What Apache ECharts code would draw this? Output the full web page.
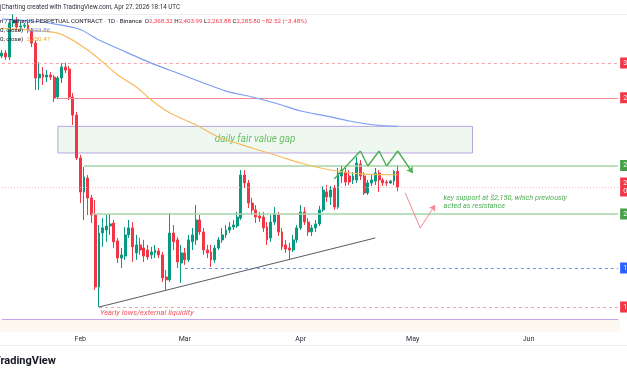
<!DOCTYPE html>
<html><head><meta charset="utf-8">
<script src="https://cdn.jsdelivr.net/npm/echarts@6/dist/echarts.min.js"></script>
<style>html,body{margin:0;padding:0;background:#fff}#c{width:627px;height:376px}</style>
</head><body><div id="c"></div>
<script>
// ---------- DATA ----------
const firstDay = '2026-01-11';
const dayCount = 166;
const monthNames = ['Jan','Feb','Mar','Apr','May','Jun','Jul','Aug','Sep','Oct','Nov','Dec'];

// daily candles from 2026-01-11 : [open, close, low, high]
const candles = [
  // Jan 11 - Jan 31
  [3079,3100,3065,3121],[3100,3072,3051,3121],[3072,3319,3051,3341],[3319,3341,3289,3387],
  [3341,3289,3266,3364],[3289,3296,3259,3326],[3296,3303,3281,3319],[3303,3266,3244,3326],
  [3266,3171,3142,3281],[3171,2929,2850,3193],[2929,2955,2850,3037],[2955,2935,2883,3003],
  [2935,2949,2902,2982],[2949,2935,2915,2969],[2935,2798,2773,2949],[2805,2929,2792,2942],
  [2929,3003,2896,3030],[3003,2982,2962,3030],[2989,2805,2786,3010],[2805,2692,2632,2830],
  [2692,2442,2431,2711],
  // Feb
  [2442,2260,2204,2459],[2260,2339,2120,2392],[2333,2230,2145,2349],[2230,2145,2106,2245],
  [2145,1821,1809,2219],[1821,2059,1740,2097],[2059,2083,1995,2130],[2073,2092,2018,2145],
  [2092,2102,2050,2150],[2106,2018,1990,2121],[2022,1945,1923,2036],[1945,1959,1902,1990],
  [1954,2050,1937,2087],[2050,2083,2036,2121],[2083,1995,1928,2111],[1968,2004,1937,2050],
  [2004,1981,1959,2036],[1990,1954,1928,2027],[1981,1950,1937,2004],[1959,1972,1941,1995],
  [1968,1981,1945,2004],[1977,1959,1945,1990],[1959,1859,1842,1972],[1863,1851,1809,1893],
  [1851,2059,1842,2155],[2059,2018,1981,2097],[2027,1928,1902,2040],[1923,1968,1838,2004],
  // Mar
  [1968,1937,1915,1990],[1937,2027,1928,2050],[2018,2050,1981,2083],[2027,2121,2004,2194],
  [2121,2064,2050,2145],[2064,1981,1959,2083],[1981,1968,1945,2004],[1972,1937,1906,2004],
  [1937,1990,1923,2004],[1990,2027,1981,2040],[2027,2050,2013,2083],[2050,2073,2036,2097],
  [2073,2087,2059,2111],[2087,2097,2073,2121],[2092,2135,2083,2160],[2130,2349,2121,2376],
  [2349,2307,2281,2376],[2307,2204,2179,2323],[2204,2170,2145,2230],[2170,2135,2106,2194],
  [2140,2130,2111,2160],[2135,2083,2064,2160],[2087,2027,2004,2111],[2036,2111,2018,2145],
  [2111,2150,2097,2184],[2145,2064,2045,2160],[2064,1995,1981,2083],[2004,1985,1968,2027],
  [1990,1981,1937,2013],[1981,2027,1972,2050],[2027,2083,2013,2097],
  // Apr 1 - Apr 27
  [2083,2160,2073,2194],[2160,2111,2097,2184],[2111,2064,2045,2130],[2064,2083,2045,2097],
  [2083,2102,2064,2121],[2102,2170,2092,2190],[2170,2270,2160,2291],[2260,2235,2210,2296],
  [2235,2270,2194,2291],[2281,2184,2170,2296],[2184,2360,2175,2387],[2344,2376,2307,2403],
  [2365,2312,2291,2387],[2344,2312,2296,2376],[2323,2344,2302,2365],[2323,2414,2307,2447],
  [2409,2344,2323,2431],[2344,2255,2245,2365],[2255,2307,2245,2323],[2307,2323,2291,2349],
  [2317,2360,2296,2387],[2360,2323,2260,2376],[2323,2307,2291,2333],[2312,2307,2291,2323],
  [2307,2317,2302,2323],[2317,2368.32,2296,2376],[2368.32,2285.80,2263.88,2403.99]
];

// moving averages [date, value]
const ma200 = [['2026-01-11',3349],['2026-01-19',3334],['2026-01-27',3303],['2026-02-01',3270],
  ['2026-02-06',3193],['2026-02-12',3121],['2026-02-20',3030],['2026-02-27',2962],['2026-03-06',2896],
  ['2026-03-12',2843],['2026-03-19',2805],['2026-03-26',2761],['2026-04-01',2717],['2026-04-08',2686],
  ['2026-04-14',2656],['2026-04-21',2632],['2026-04-27',2623.86]];
const ma50 = [['2026-01-11',3281],['2026-01-19',3266],['2026-01-26',3244],['2026-01-29',3207],
  ['2026-02-03',3121],['2026-02-07',3037],['2026-02-11',2949],['2026-02-16',2869],['2026-02-20',2786],
  ['2026-02-25',2705],['2026-03-04',2632],['2026-03-10',2561],['2026-03-19',2498],['2026-03-26',2453],
  ['2026-04-01',2414],['2026-04-09',2376],['2026-04-17',2355],['2026-04-27',2350.47]];

// horizontal levels
const levelValues = [3030, 2800, 2400, 2285.80, 2150, 1902, 1740, 1694];
const levelStarts = ['2026-01-11','2026-01-26','2026-02-02','2026-01-11','2026-02-04','2026-03-01','2026-02-06','2026-01-11'];
const levelLabels = ['3,030.00','2,800.00','2,400.00','2,285.80\n05:45:49','2,150.00','1,902.00','1,740.00',''];

// fair value gap box
const fvgDates = ['2026-01-26','2026-05-17'];
const fvgPrices = [2624, 2470];

// drawings
const trendLine = [['2026-02-06',1740],['2026-04-21',2036]];
const zigzag = [['2026-04-10',2328],['2026-04-17',2481],['2026-04-19',2398],['2026-04-22',2481],
  ['2026-04-24',2398],['2026-04-27',2481],['2026-05-01',2360]];
const projection = [['2026-04-29',2255],['2026-05-03',2083],['2026-05-07',2194]];
const keySupportAnchor = ['2026-05-09', 2207];
const yearlyLowAnchor = ['2026-02-06', 1740];

// header texts
const headerText = 'jCharting created with TradingView.com, Apr 27, 2026 18:14 UTC';
const ohlcLabels = ['O','H','L','C'];
const ohlcValues = ['2,368.32','2,403.99','2,263.88','2,285.80'];
const changeText = '\u221282.52 (\u22123.48%)';
const maLegendValues = ['2,623.86','2,350.47'];

// ---------- BUILD ----------
const dates = [];
{
  const t0 = Date.parse(firstDay + 'T00:00:00Z');
  for (let i = 0; i < dayCount; i++) dates.push(new Date(t0 + i * 86400000).toISOString().slice(0, 10));
}
const lastDate = dates[dates.length - 1];
const FONT = 'Roboto, "Liberation Sans", Arial, sans-serif';
const UP = '#089981', DOWN = '#f23645';

const levelStyles = [
  {color:'#f7a1a8', type:[3,3], width:1, bg:'#f23645'},
  {color:'#f48c95', type:'solid', width:1, bg:'#f23645'},
  {color:'#a5d6a7', type:'solid', width:1.5, bg:'#43a047'},
  {color:'#f7b3b8', type:[1,2], width:1, bg:'#f23645'},
  {color:'#a5d6a7', type:'solid', width:1.5, bg:'#43a047'},
  {color:'#6d94f0', type:[3,3], width:1, bg:'#2962ff'},
  {color:'#f7a1a8', type:[3,3], width:1, bg:'#f23645'},
  {color:'#c3a6f0', type:'solid', width:1.2, bg:null}
];

const levelLines = levelValues.map((v, i) => {
  const s = levelStyles[i];
  return [
    {coord:[levelStarts[i], v], lineStyle:{color:s.color, type:s.type, width:s.width},
     label: s.bg ? {show:true, position:'end', distance:2, formatter:levelLabels[i], color:'#fff',
       backgroundColor:s.bg, fontSize:7, lineHeight:8, padding:[2,3,1,3], fontFamily:FONT} : {show:false}},
    {coord:[lastDate, v]}
  ];
});

function segs(points, color, width, arrow) {
  const out = [];
  for (let i = 0; i < points.length - 1; i++) {
    out.push([{coord:points[i], lineStyle:{color, width, type:'solid'}, symbol:'none'},
              {coord:points[i+1], symbol:(arrow && i === points.length - 2) ? 'arrow' : 'none', symbolSize:6}]);
  }
  return out;
}

const legendRich = {
  d:{fill:'#131722', fontSize:6.2, fontFamily:FONT},
  r:{fill:'#f23645', fontSize:6.2, fontFamily:FONT}
};
let legendText = '{d|m / TetherUS PERPETUAL CONTRACT \u00b7 1D \u00b7 Binance} ';
ohlcLabels.forEach((l, i) => { legendText += ' {d|' + l + '}{r|' + ohlcValues[i] + '}'; });
legendText += ' {r|' + changeText + '}';

const option = {
  animation:false,
  backgroundColor:'#ffffff',
  grid:{left:-2.625, right:7, top:15, bottom:44},
  xAxis:{type:'category', data:dates, boundaryGap:true,
    axisLine:{show:false}, axisTick:{show:false}, splitLine:{show:false},
    axisLabel:{interval:(i, v) => v.slice(8) === '01', formatter:v => monthNames[parseInt(v.slice(5,7),10)-1],
      color:'#2a2e39', fontSize:7, margin:4, fontFamily:FONT}},
  yAxis:{type:'log', logBase:10, min:1644, max:3380, position:'right',
    axisLine:{show:false}, axisTick:{show:false}, splitLine:{show:false}, axisLabel:{show:false}},
  series:[
    {type:'line', data:[], silent:true,
      markArea:{silent:true, data:[
        [{yAxis:1644, itemStyle:{color:'#fdf9f1'}}, {yAxis:1694}],
        [{coord:[fvgDates[0], fvgPrices[0]], itemStyle:{color:'rgba(226,242,227,0.55)', borderColor:'#b9a3e3', borderWidth:1},
          label:{show:true, position:'inside', offset:[-10,0], formatter:'daily fair value gap', color:'#6abf69',
            fontStyle:'italic', fontSize:10, fontFamily:FONT}},
         {coord:[fvgDates[1], fvgPrices[1]]}]
      ]}},
    {type:'line', data:[], silent:true, z:3,
      markLine:{silent:true, symbol:['none','none'], data:levelLines}},
    {type:'candlestick', data:candles, barWidth:2.4, z:4,
      itemStyle:{color:UP, color0:DOWN, borderColor:UP, borderColor0:DOWN, borderWidth:1}},
    {type:'line', data:ma200, showSymbol:false, smooth:0.25, z:5,
      lineStyle:{color:'#7d9df5', width:1.2}},
    {type:'line', data:ma50, showSymbol:false, smooth:0.25, z:5,
      lineStyle:{color:'#f7bb5c', width:1.2}},
    {type:'line', data:[], silent:true, z:6,
      markLine:{silent:true, symbol:['none','none'], label:{show:false},
        data:[].concat(segs(trendLine, '#555b66', 1, false), segs(zigzag, '#4caf50', 1.4, true), segs(projection, '#f7868f', 1, true))},
      markPoint:{silent:true, symbol:'circle', symbolSize:0, data:[
        {coord:keySupportAnchor, label:{show:true, position:'right', distance:1,
          formatter:'key support at $2,150, which previously\nacted as resistance', color:'#4caf50',
          fontStyle:'italic', fontSize:7.3, lineHeight:8, fontFamily:FONT}},
        {coord:yearlyLowAnchor, label:{show:true, position:'right', distance:1, offset:[0,6],
          formatter:'Yearly lows/external liquidity', color:'#f7525f', fontStyle:'italic', fontSize:7.6, fontFamily:FONT}}
      ]}}
  ],
  graphic:[
    {type:'text', x:0, y:7, style:{text:headerText, fill:'#2a2e39', fontSize:6.3, fontFamily:FONT, verticalAlign:'middle'}},
    {type:'line', shape:{x1:0, y1:14.5, x2:627, y2:14.5}, style:{stroke:'#eceef2', lineWidth:1}},
    {type:'text', x:-2, y:21, z:10, style:{text:legendText, rich:legendRich, fontSize:6.2, fontFamily:FONT, verticalAlign:'middle'}},
    {type:'text', x:0, y:30, z:10, style:{text:'{d|0, close)} {b|' + maLegendValues[0] + '}', rich:{d:legendRich.d, b:{fill:'#6d8ef0', fontSize:6.2, fontFamily:FONT}}, verticalAlign:'middle'}},
    {type:'text', x:0, y:39, z:10, style:{text:'{d|0, close)} {o|' + maLegendValues[1] + '}', rich:{d:legendRich.d, o:{fill:'#f5a623', fontSize:6.2, fontFamily:FONT}}, verticalAlign:'middle'}},
    {type:'line', shape:{x1:0, y1:345.5, x2:627, y2:345.5}, style:{stroke:'#eceef2', lineWidth:1}},
    {type:'text', x:-6, y:361, style:{text:'TradingView', fill:'#131722', fontSize:11, fontWeight:'bold', fontFamily:FONT, verticalAlign:'middle'}}
  ]
};
const chart = echarts.init(document.getElementById('c'), null, {renderer:'canvas'});
chart.setOption(option);
</script></body></html>
